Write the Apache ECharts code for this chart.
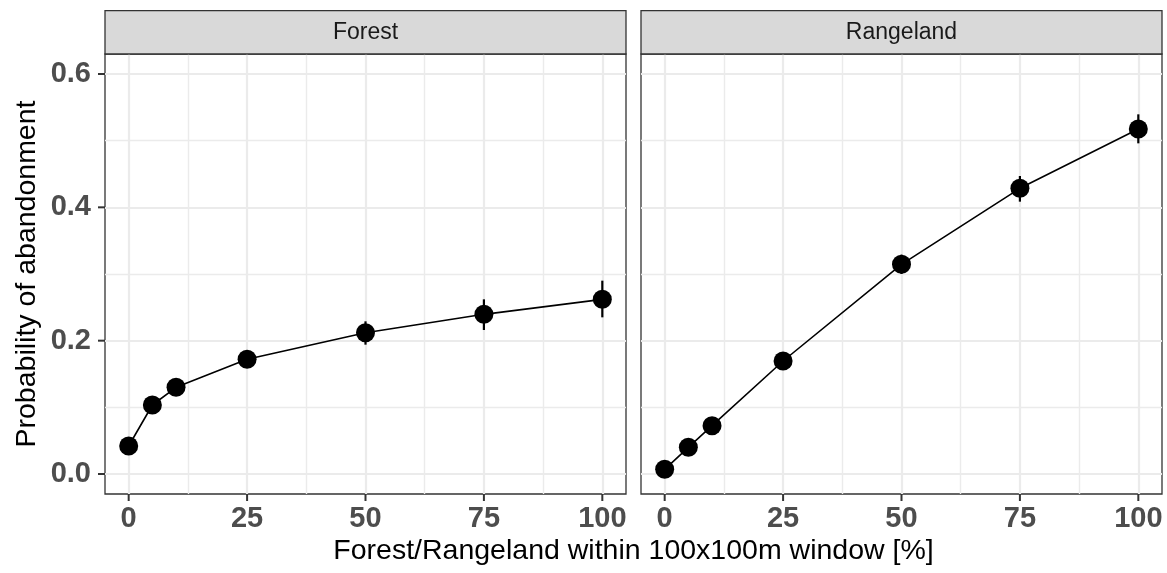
<!DOCTYPE html>
<html>
<head>
<meta charset="utf-8">
<script src="https://cdn.jsdelivr.net/npm/echarts@6/dist/echarts.min.js"></script>
<style>
  html, body { margin: 0; padding: 0; background: #fff; }
  #chart { width: 1167px; height: 573px; }
</style>
</head>
<body>
<div id="chart"></div>
<script>
// Facet names and x positions (% cover in the 100x100 m window)
const panelNames = ['Forest', 'Rangeland'];
const coverPct = [0, 5, 10, 25, 50, 75, 100];

// Forest: estimated probability with lower / upper interval
const forestProb = [0.042, 0.1035, 0.130, 0.172, 0.212, 0.2395, 0.262];
const forestLow  = [0.034, 0.095, 0.122, 0.163, 0.194, 0.216, 0.235];
const forestHigh = [0.050, 0.112, 0.139, 0.181, 0.229, 0.262, 0.290];

// Rangeland: estimated probability with lower / upper interval
const rangeProb = [0.007, 0.040, 0.0725, 0.1695, 0.3145, 0.4285, 0.5175];
const rangeLow  = [0.004, 0.034, 0.065, 0.160, 0.300, 0.4085, 0.496];
const rangeHigh = [0.011, 0.047, 0.081, 0.180, 0.329, 0.447, 0.5395];

// Axis breaks
const xTicks = [0, 25, 50, 75, 100];
const xMinor = [12.5, 37.5, 62.5, 87.5];
const yTicks = [0, 0.2, 0.4, 0.6];
const yMinor = [0.1, 0.3, 0.5];

const FONT = 'Liberation Sans, Arial, Helvetica, sans-serif';
const X_MIN = -5, X_MAX = 105, Y_MIN = -0.03, Y_MAX = 0.63;
const TICK_LEN = 7;

const panels = [
  { prob: forestProb, low: forestLow, high: forestHigh, left: 105 },
  { prob: rangeProb, low: rangeLow, high: rangeHigh, left: 641 }
];
const PANEL_TOP = 54, PANEL_W = 521, PANEL_H = 440, STRIP_H = 43.3;

const grids = [], xAxes = [], yAxes = [], series = [];
const axisColor = '#333';

panels.forEach((p, i) => {
  grids.push({
    left: p.left, top: PANEL_TOP, width: PANEL_W, height: PANEL_H,
    show: true, backgroundColor: '#fff', borderColor: axisColor, borderWidth: 1.3,
    containLabel: false
  });
  xAxes.push({
    type: 'value', gridIndex: i, min: X_MIN, max: X_MAX,
    axisLine: { show: false },
    axisTick: { show: false },
    axisLabel: {
      customValues: xTicks, fontSize: 29, fontWeight: 'bold', color: '#4d4d4d',
      fontFamily: FONT, margin: 10
    },
    splitLine: { show: false }
  });
  yAxes.push({
    type: 'value', gridIndex: i, min: Y_MIN, max: Y_MAX,
    axisLine: { show: false },
    axisTick: { show: false },
    axisLabel: {
      show: i === 0, customValues: yTicks, fontSize: 29, fontWeight: 'bold', color: '#4d4d4d',
      fontFamily: FONT, margin: 14, formatter: v => v.toFixed(1)
    },
    splitLine: { show: false },
    name: i === 0 ? 'Probability of abandonment' : '',
    nameLocation: 'middle', nameRotate: 90, nameGap: 63,
    nameTextStyle: { fontSize: 28.5, color: '#000', fontFamily: FONT }
  });

  // grid lines (minor first, major on top), kept beneath the data
  const gridLine = (w) => ({ color: '#ebebeb', width: w, type: 'solid' });
  series.push({
    type: 'line', xAxisIndex: i, yAxisIndex: i, data: [], z: 0, silent: true,
    markLine: {
      z: 0, silent: true, symbol: 'none', label: { show: false }, animation: false,
      emphasis: { disabled: true },
      data: [
        ...xMinor.map(v => ({ xAxis: v, lineStyle: gridLine(1.4) })),
        ...yMinor.map(v => ({ yAxis: v, lineStyle: gridLine(1.4) })),
        ...xTicks.map(v => ({ xAxis: v, lineStyle: gridLine(2.2) })),
        ...yTicks.map(v => ({ yAxis: v, lineStyle: gridLine(2.2) }))
      ]
    }
  });

  // interval bars
  series.push({
    type: 'custom', xAxisIndex: i, yAxisIndex: i, z: 6, silent: true,
    data: coverPct.map((x, k) => [x, p.low[k], p.high[k]]),
    encode: { x: 0, y: [1, 2] },
    renderItem: (params, api) => {
      const a = api.coord([api.value(0), api.value(1)]);
      const b = api.coord([api.value(0), api.value(2)]);
      return {
        type: 'line',
        shape: { x1: a[0], y1: a[1], x2: b[0], y2: b[1] },
        style: { stroke: '#000', lineWidth: 2.2 }
      };
    }
  });

  // points and connecting line
  series.push({
    type: 'line', xAxisIndex: i, yAxisIndex: i, z: 7, silent: true,
    data: coverPct.map((x, k) => [x, p.prob[k]]),
    symbol: 'circle', symbolSize: 19, showAllSymbol: true,
    itemStyle: { color: '#000' },
    lineStyle: { color: '#000', width: 1.6 },
    animation: false
  });
});

const chart = echarts.init(document.getElementById('chart'), null, { renderer: 'canvas' });
chart.setOption({
  backgroundColor: '#fff',
  animation: false,
  grid: grids,
  xAxis: xAxes,
  yAxis: yAxes,
  series: series
});

// strips, outward tick marks and the shared x title, placed through the axes' scales
const graphics = [];
panels.forEach((p, i) => {
  const finder = { xAxisIndex: i, yAxisIndex: i };
  xTicks.forEach(v => {
    const pt = chart.convertToPixel(finder, [v, Y_MIN]);
    graphics.push({
      type: 'line', z: 9,
      shape: { x1: pt[0], y1: pt[1], x2: pt[0], y2: pt[1] + TICK_LEN },
      style: { stroke: axisColor, lineWidth: 2 }
    });
  });
  if (i === 0) {
    yTicks.forEach(v => {
      const pt = chart.convertToPixel(finder, [X_MIN, v]);
      graphics.push({
        type: 'line', z: 9,
        shape: { x1: pt[0] - TICK_LEN, y1: pt[1], x2: pt[0], y2: pt[1] },
        style: { stroke: axisColor, lineWidth: 2 }
      });
    });
  }
  graphics.push({
    type: 'rect', z: 10,
    shape: { x: p.left, y: PANEL_TOP - STRIP_H, width: PANEL_W, height: STRIP_H },
    style: { fill: '#d9d9d9', stroke: axisColor, lineWidth: 1.3 }
  });
  graphics.push({
    type: 'text', z: 11,
    x: p.left + PANEL_W / 2, y: PANEL_TOP - STRIP_H / 2,
    style: {
      text: panelNames[i], fill: '#1a1a1a', font: '23px ' + FONT,
      textAlign: 'center', textVerticalAlign: 'middle'
    }
  });
});
graphics.push({
  type: 'text', z: 11,
  x: (105 + 641 + PANEL_W) / 2, y: 551,
  style: {
    text: 'Forest/Rangeland within 100x100m window [%]', fill: '#000',
    font: '28.5px ' + FONT, textAlign: 'center', textVerticalAlign: 'middle'
  }
});
chart.setOption({ graphic: graphics });
</script>
</body>
</html>
